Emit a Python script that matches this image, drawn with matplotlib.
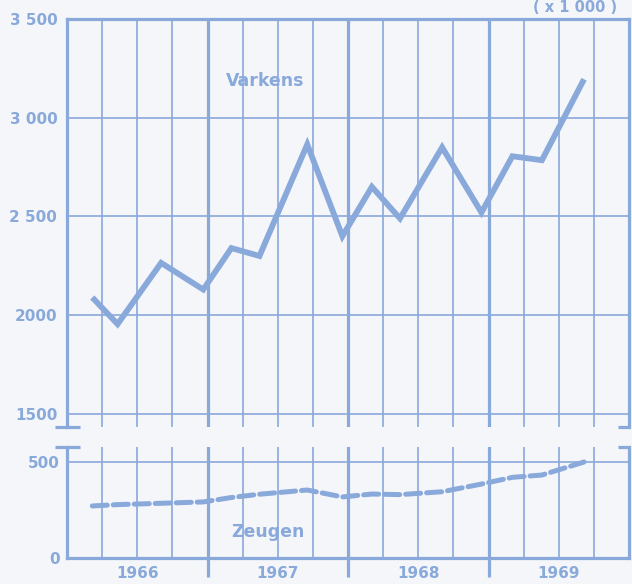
import matplotlib
matplotlib.use("Agg")
import matplotlib.pyplot as plt

# census dates (decimal years) and counts (x 1000)
dates = [1966.18, 1966.36, 1966.67, 1966.97,
         1967.17, 1967.37, 1967.71, 1967.96,
         1968.17, 1968.37, 1968.67, 1968.95,
         1969.17, 1969.38, 1969.68]
varkens = [2090, 1955, 2265, 2130,
           2340, 2300, 2865, 2400,
           2650, 2490, 2850, 2520,
           2805, 2785, 3195]
zeugen = [271, 278, 285, 292,
          315, 332, 354, 318,
          333, 330, 345, 385,
          420, 432, 500]

years = [1966, 1967, 1968, 1969]
top_ticks = [1500, 2000, 2500, 3000, 3500]
top_labels = ["1500", "2000", "2 500", "3 000", "3 500"]
bottom_ticks = [0, 500]
bottom_labels = ["0", "500"]

BLUE = "#8aa9db"
BG = "#f4f6f9"
W, H = 632, 584

plt.rcParams["font.family"] = "DejaVu Sans"
plt.rcParams["font.weight"] = "bold"

fig = plt.figure(figsize=(W / 100, H / 100), dpi=100, facecolor=BG)
ax1 = fig.add_axes([67 / W, 1 - 427 / H, 562 / W, 408 / H])
ax2 = fig.add_axes([67 / W, 1 - 558 / H, 562 / W, 111 / H])

quarters = [y + q / 4 for y in years for q in (1, 2, 3)]
year_edges = years[1:]

for ax in (ax1, ax2):
    ax.set_facecolor(BG)
    ax.set_xlim(1966, 1970)
    ax.set_xticks(year_edges)
    ax.set_xticks(quarters, minor=True)
    ax.xaxis.grid(True, which="major", color=BLUE, lw=2.3)
    ax.xaxis.grid(True, which="minor", color=BLUE, lw=1.2)
    ax.yaxis.grid(True, which="major", color=BLUE, lw=1.2)
    ax.set_axisbelow(True)
    for s in ax.spines.values():
        s.set_color(BLUE)
        s.set_linewidth(2.3)
    ax.tick_params(axis="y", length=0, colors=BLUE, labelsize=11)

# top panel: Varkens
ax1.set_ylim(1434, 3500)
ax1.set_yticks(top_ticks)
ax1.set_yticklabels(top_labels)
ax1.tick_params(axis="y", pad=7)
ax1.tick_params(axis="x", which="both", length=0, labelbottom=False)
ax1.spines["bottom"].set_visible(False)
ax1.plot(dates, varkens, color=BLUE, lw=4.2, solid_joinstyle="miter",
         solid_capstyle="butt")
ax1.text(1967.41, 3186, "Varkens", color=BLUE, fontsize=12.5,
         ha="center", va="center")

# bottom panel: Zeugen
ax2.set_ylim(0, 578)
ax2.set_yticks(bottom_ticks)
ax2.set_yticklabels(bottom_labels)
ax2.tick_params(axis="y", pad=5)
ax2.spines["top"].set_visible(False)
ax2.tick_params(axis="x", which="major", length=13.5, width=2.3,
                color=BLUE, labelbottom=False)
year_labels = [str(int(q)) if abs(q % 1 - 0.5) < 1e-6 else "" for q in quarters]
ax2.set_xticklabels(year_labels, minor=True)
ax2.tick_params(axis="x", which="minor", length=0, pad=6,
                labelcolor=BLUE, labelsize=11)
ax2.plot(dates, zeugen, color=BLUE, lw=3.6, dashes=(3, 1.2),
         dash_capstyle="round")
ax2.text(1967.43, 135, "Zeugen", color=BLUE, fontsize=12.5,
         ha="center", va="center")

# axis-break caps
cap = dict(color=BLUE, lw=2.3, clip_on=False, solid_capstyle="butt")
ax1.plot([-12 / 562, 13 / 562], [0, 0], transform=ax1.transAxes, **cap)
ax1.plot([1 - 11 / 562, 1.002], [0, 0], transform=ax1.transAxes, **cap)
ax2.plot([-12 / 562, 13 / 562], [1, 1], transform=ax2.transAxes, **cap)
ax2.plot([1 - 11 / 562, 1.002], [1, 1], transform=ax2.transAxes, **cap)

fig.text(0.91, 1 - 8 / H, "( x 1 000 )", color=BLUE, fontsize=10.5,
         ha="center", va="center")

fig.savefig("out.png", dpi=100, facecolor=BG)
